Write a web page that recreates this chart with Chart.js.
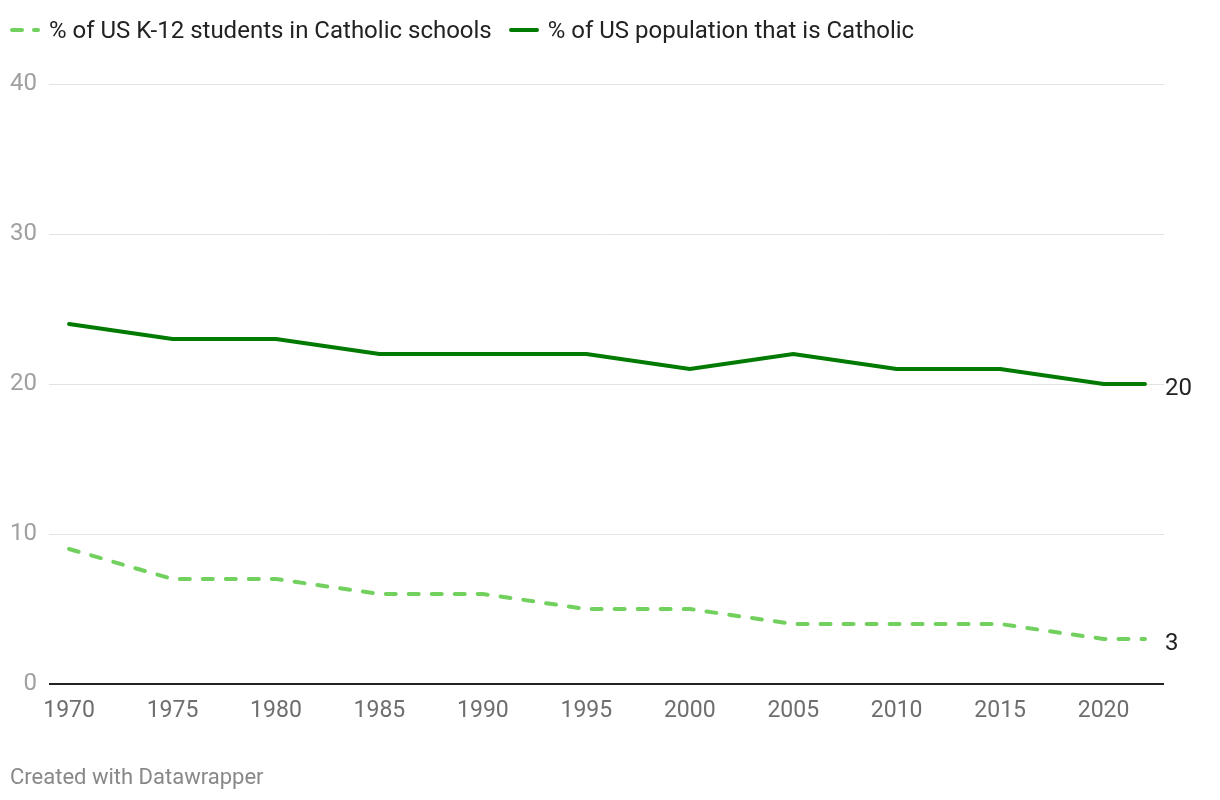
<!DOCTYPE html>
<html>
<head>
<meta charset="utf-8">
<script src="https://cdn.jsdelivr.net/npm/chart.js@4/dist/chart.umd.min.js"></script>
<style>
  body { margin: 0; background: #fff; font-family: Roboto, sans-serif; }
  #wrap { position: relative; width: 1220px; height: 800px; }
  #chart { position: absolute; left: 0; top: 0; }
  .legend { position: absolute; top: 16px; left: 10px; font-size: 24px; color: #222; display: flex; }
  .item { display: flex; align-items: center; margin-right: 17px; }
  .key { width: 30px; height: 4px; margin-right: 9px; }
  .footer { position: absolute; left: 10px; top: 764px; font-size: 22px; color: #888; }
</style>
</head>
<body>
<div id="wrap">
  <canvas id="chart" width="1220" height="800"></canvas>
  <div class="legend">
    <div class="item">
      <svg class="key" width="30" height="4"><line x1="2" y1="2" x2="28" y2="2" stroke="#72d15e" stroke-width="4" stroke-linecap="round" stroke-dasharray="10 12"/></svg>
      % of US K-12 students in Catholic schools</div>
    <div class="item">
      <svg class="key" width="30" height="4"><line x1="2" y1="2" x2="28" y2="2" stroke="#007a00" stroke-width="4" stroke-linecap="round"/></svg>
      % of US population that is Catholic</div>
  </div>
  <div class="footer">Created with Datawrapper</div>
</div>
<script>
// =============================
// DATA
// =============================
const years = [1970, 1975, 1980, 1985, 1990, 1995, 2000, 2005, 2010, 2015, 2020, 2022];
const studentsPct = [9, 7, 7, 6, 6, 5, 5, 4, 4, 4, 3, 3];
const populationPct = [24, 23, 23, 22, 22, 22, 21, 22, 21, 21, 20, 20];
const xTicks = [1970, 1975, 1980, 1985, 1990, 1995, 2000, 2005, 2010, 2015, 2020];
const yTicks = [0, 10, 20, 30, 40];

const lightGreen = "#72d15e";
const darkGreen = "#007a00";

// end-of-line value labels
const endLabels = {
  id: "endLabels",
  afterDatasetsDraw(chart) {
    const ctx = chart.ctx;
    ctx.save();
    ctx.font = "24px Roboto";
    ctx.fillStyle = "#222";
    ctx.textBaseline = "middle";
    chart.data.datasets.forEach((ds, i) => {
      const pts = chart.getDatasetMeta(i).data;
      const last = pts[pts.length - 1];
      ctx.fillText(ds.data[ds.data.length - 1].y, chart.chartArea.right + 1, last.y + 5);
    });
    ctx.restore();
  }
};

// black baseline at zero
const baseline = {
  id: "baseline",
  afterDatasetsDraw(chart) {
    const { ctx, chartArea } = chart;
    const y = chart.scales.y.getPixelForValue(0);
    ctx.save();
    ctx.strokeStyle = "#222";
    ctx.lineWidth = 2;
    ctx.beginPath();
    ctx.moveTo(chartArea.left, y);
    ctx.lineTo(chartArea.right, y);
    ctx.stroke();
    ctx.restore();
  }
};

new Chart(document.getElementById("chart"), {
  type: "line",
  data: {
    datasets: [
      {
        label: "% of US K-12 students in Catholic schools",
        data: years.map((yr, i) => ({ x: yr, y: studentsPct[i] })),
        borderColor: lightGreen,
        borderWidth: 4,
        borderDash: [10, 13],
        borderCapStyle: "round",
        pointRadius: 0,
        tension: 0
      },
      {
        label: "% of US population that is Catholic",
        data: years.map((yr, i) => ({ x: yr, y: populationPct[i] })),
        borderColor: darkGreen,
        borderWidth: 4,
        borderCapStyle: "round",
        pointRadius: 0,
        tension: 0
      }
    ]
  },
  options: {
    responsive: false,
    animation: false,
    layout: { padding: { top: 84, right: 56, left: 0, bottom: 0 } },
    plugins: { legend: { display: false }, tooltip: { enabled: false } },
    scales: {
      x: {
        type: "linear",
        min: 1969.03,
        max: 2022.92,
        afterFit: s => { s.height = 116; },
        afterBuildTicks: s => { s.ticks = xTicks.map(v => ({ value: v })); },
        grid: { display: false, drawTicks: false },
        border: { display: false },
        ticks: {
          padding: 13,
          maxRotation: 0,
          autoSkip: false,
          color: "#6e6e6e",
          font: { family: "Roboto", size: 23 },
          callback: v => String(v)
        }
      },
      y: {
        min: 0,
        max: 40,
        afterFit: s => { s.width = 49; },
        afterBuildTicks: s => { s.ticks = yTicks.map(v => ({ value: v })); },
        grid: { color: "#e3e3e3", lineWidth: 1, drawTicks: false },
        border: { display: false },
        ticks: {
          padding: 12,
          color: "#a0a0a0",
          font: { family: "Roboto", size: 24 }
        }
      }
    }
  },
  plugins: [baseline, endLabels]
});
</script>
</body>
</html>
